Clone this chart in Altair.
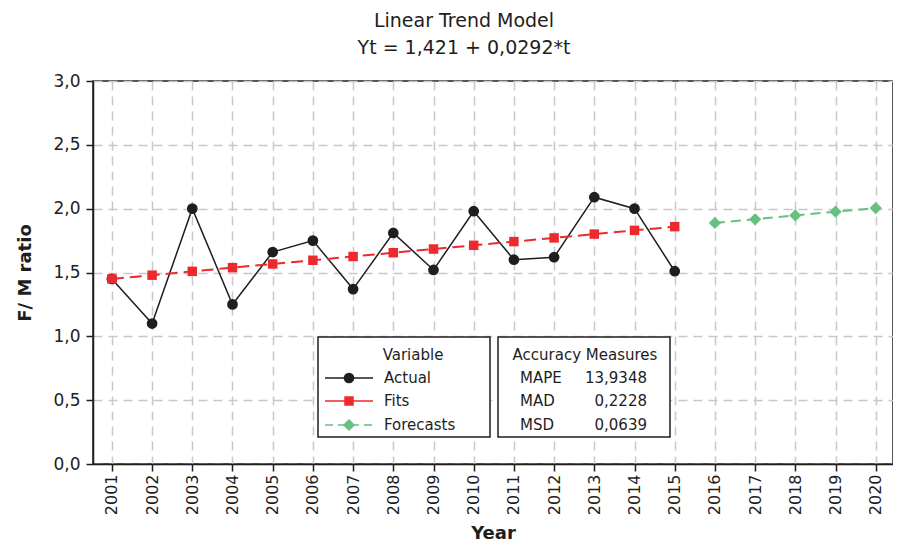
import altair as alt
import pandas as pd

# ---- data ----
years_actual = [2001, 2002, 2003, 2004, 2005, 2006, 2007, 2008, 2009, 2010, 2011, 2012, 2013, 2014, 2015]
actual = [1.45, 1.10, 2.00, 1.25, 1.66, 1.75, 1.37, 1.81, 1.52, 1.98, 1.60, 1.62, 2.09, 2.00, 1.51]
fits = [1.450, 1.479, 1.509, 1.538, 1.567, 1.596, 1.625, 1.655, 1.684, 1.713, 1.742, 1.771, 1.801, 1.830, 1.859]
years_forecast = [2016, 2017, 2018, 2019, 2020]
forecasts = [1.888, 1.917, 1.947, 1.976, 2.005]
year_ticks = [2001, 2002, 2003, 2004, 2005, 2006, 2007, 2008, 2009, 2010,
              2011, 2012, 2013, 2014, 2015, 2016, 2017, 2018, 2019, 2020]
y_ticks = [0.0, 0.5, 1.0, 1.5, 2.0, 2.5, 3.0]
legend_labels = ["Actual", "Fits", "Forecasts"]
measure_names = ["MAPE", "MAD", "MSD"]
measure_values = ["13,9348", "0,2228", "0,0639"]

df_actual = pd.DataFrame({"year": years_actual, "value": actual})
df_fits = pd.DataFrame({"year": years_actual, "value": fits})
df_fc = pd.DataFrame({"year": years_forecast, "value": forecasts})
one = pd.DataFrame({"k": [0]})

FONT = "DejaVu Sans"
BLACK = "#1e1e1e"
RED = "#ec2a2e"
GREEN = "#66c07f"
W, H = 800, 383
X0, Y0 = 93, 81  # plot origin in page pixels

x_enc = alt.X("year:Q",
              scale=alt.Scale(domain=[2000.53, 2020.43], nice=False, zero=False),
              axis=alt.Axis(values=year_ticks, format="d", labelAngle=270,
                            labelFontSize=16, labelPadding=3,
                            title="Year", titlePadding=10))
y_enc = alt.Y("value:Q",
              scale=alt.Scale(domain=[0, 3], nice=False, zero=True),
              axis=alt.Axis(values=y_ticks,
                            labelExpr="replace(format(datum.value, '.1f'), '.', ',')",
                            labelFontSize=17, labelPadding=6,
                            title="F/ M ratio", titlePadding=18))

actual_line = alt.Chart(df_actual).mark_line(color=BLACK, strokeWidth=1.5).encode(x=x_enc, y=y_enc)
actual_pts = alt.Chart(df_actual).mark_point(shape="circle", filled=True, opacity=1,
                                              size=115, color=BLACK).encode(x=x_enc, y=y_enc)
fits_line = alt.Chart(df_fits).mark_line(color=RED, strokeWidth=2,
                                          strokeDash=[12, 6]).encode(x=x_enc, y=y_enc)
fits_pts = alt.Chart(df_fits).mark_point(shape="square", filled=True, opacity=1,
                                          size=90, color=RED).encode(x=x_enc, y=y_enc)
fc_line = alt.Chart(df_fc).mark_line(color=GREEN, strokeWidth=2,
                                      strokeDash=[10, 6]).encode(x=x_enc, y=y_enc)
fc_pts = alt.Chart(df_fc).mark_point(shape="diamond", filled=True, opacity=1,
                                      size=150, color=GREEN).encode(x=x_enc, y=y_enc)


def box(x1, x2, y1, y2):
    return alt.Chart(one).mark_rect(fill="white", stroke=BLACK, strokeWidth=1.5).encode(
        x=alt.value(x1 - X0), x2=alt.value(x2 - X0),
        y=alt.value(y1 - Y0), y2=alt.value(y2 - Y0))


def txt(s, px, py, align="left"):
    return alt.Chart(one).mark_text(text=s, align=align, baseline="middle", fontSize=15,
                                    font=FONT, color=BLACK).encode(
        x=alt.value(px - X0), y=alt.value(py - Y0))


def seg(x1, x2, py, color, dash=None):
    kw = dict(color=color, strokeWidth=1.5)
    if dash:
        kw["strokeDash"] = dash
    return alt.Chart(one).mark_rule(**kw).encode(
        x=alt.value(x1 - X0), x2=alt.value(x2 - X0), y=alt.value(py - Y0))


def sym(px, py, shape, color, size):
    return alt.Chart(one).mark_point(shape=shape, filled=True, opacity=1, size=size,
                                     color=color).encode(
        x=alt.value(px - X0), y=alt.value(py - Y0))


rows_y = [378, 401, 425]
legend_layers = [
    box(318, 490, 337, 437),
    box(498, 670, 337, 437),
    txt("Variable", 413, 355, "center"),
    txt("Accuracy Measures", 585, 355, "center"),
    seg(325, 373, rows_y[0], BLACK),
    sym(349, rows_y[0], "circle", BLACK, 115),
    seg(325, 373, rows_y[1], RED),
    sym(349, rows_y[1], "square", RED, 90),
    seg(325, 373, rows_y[2], GREEN, [8, 5]),
    sym(349, rows_y[2], "diamond", GREEN, 150),
]
for lab, ry in zip(legend_labels, rows_y):
    legend_layers.append(txt(lab, 384, ry))
for nm, val, ry in zip(measure_names, measure_values, rows_y):
    legend_layers.append(txt(nm, 520, ry))
    legend_layers.append(txt(val, 647, ry, "right"))

chart = alt.layer(
    actual_line, actual_pts, fits_line, fits_pts, fc_line, fc_pts, *legend_layers
).properties(
    width=W, height=H,
    padding={"left": 85, "top": 73, "right": 0, "bottom": 80},
    autosize=alt.AutoSizeParams(type="none"),
    title=alt.TitleParams(
        text=["Linear Trend Model", "Yt = 1,421 + 0,0292*t"],
        fontSize=19, font=FONT, fontWeight="normal", color=BLACK,
        anchor="middle", frame="group", dx=-29, offset=14, lineHeight=27),
    background="white",
).configure_view(
    stroke=BLACK, strokeWidth=1.5
).configure_axis(
    labelFont=FONT, labelColor=BLACK,
    titleFont=FONT, titleFontSize=18, titleFontWeight="bold", titleColor=BLACK,
    domainColor=BLACK, domainWidth=1.5,
    tickColor=BLACK, tickWidth=1.5, tickSize=7,
    gridColor="#c6c8ce", gridDash=[9, 6], gridWidth=1.5,
)

chart.save("out.html", embed_options={"renderer": "svg", "actions": False})
